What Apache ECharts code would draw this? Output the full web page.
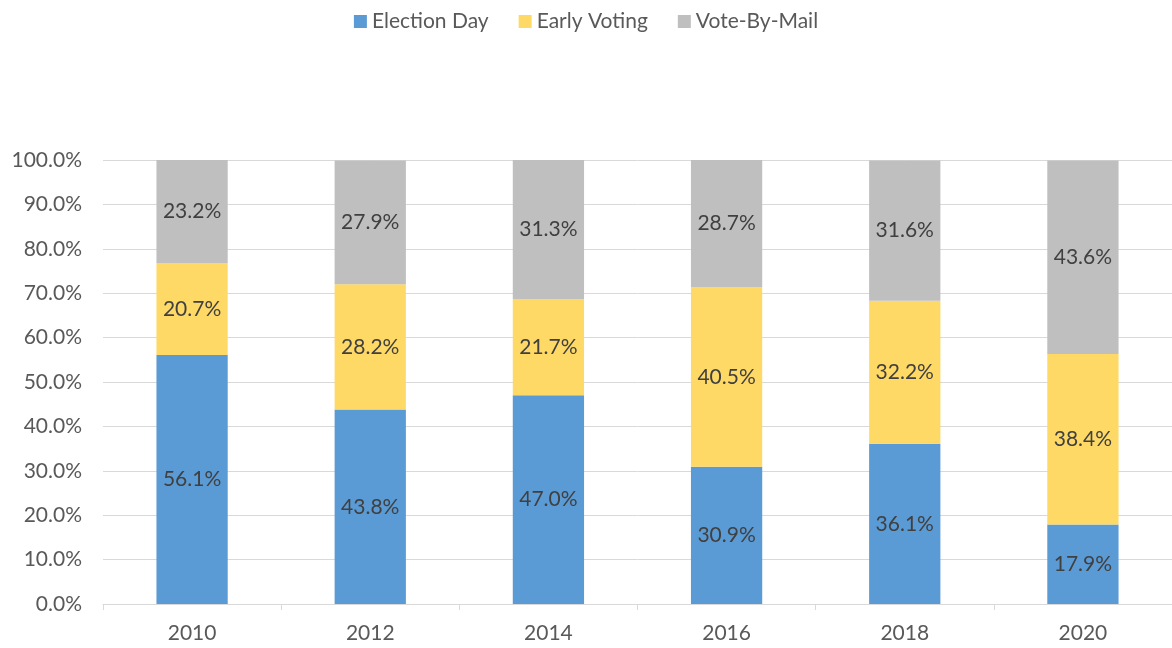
<!DOCTYPE html>
<html>
<head>
<meta charset="utf-8">
<script src="https://cdn.jsdelivr.net/npm/echarts@6/dist/echarts.min.js"></script>
<style>
  html, body { margin: 0; padding: 0; background: #fff; }
  #main { width: 1172px; height: 648px; }
</style>
</head>
<body>
<div id="main"></div>
<script>
var years = ['2010', '2012', '2014', '2016', '2018', '2020'];
var electionDay = [56.1, 43.8, 47.0, 30.9, 36.1, 17.9];
var earlyVoting = [20.7, 28.2, 21.7, 40.5, 32.2, 38.4];
var voteByMail = [23.2, 27.9, 31.3, 28.7, 31.6, 43.6];

var font = 'Lato, "Liberation Sans", sans-serif';

function makeSeries(name, data, color) {
    return {
        name: name,
        type: 'bar',
        stack: 'total',
        barWidth: '40%',
        data: data,
        itemStyle: { color: color },
        label: {
            show: true,
            position: 'inside',
            color: '#404040',
            fontSize: 21,
            fontFamily: font,
            formatter: function (p) { return p.value.toFixed(1) + '%'; }
        }
    };
}

var myChart = echarts.init(document.getElementById('main'));
myChart.setOption({
    animation: false,
    legend: {
        top: 6,
        left: 'center',
        itemWidth: 13,
        itemHeight: 13,
        itemGap: 30,
        icon: 'rect',
        textStyle: { color: '#595959', fontSize: 21, fontFamily: font },
        data: ['Election Day', 'Early Voting', 'Vote-By-Mail']
    },
    grid: { left: 103, right: 0, top: 160, bottom: 44, containLabel: false },
    xAxis: {
        type: 'category',
        data: years,
        axisLine: { lineStyle: { color: '#d9d9d9', width: 1 } },
        axisTick: { show: true, length: 6, lineStyle: { color: '#d9d9d9' } },
        axisLabel: { color: '#595959', fontSize: 21, fontFamily: font, margin: 19 }
    },
    yAxis: {
        type: 'value',
        min: 0,
        max: 100,
        interval: 10,
        axisLine: { show: false },
        axisTick: { show: false },
        splitLine: { lineStyle: { color: '#d9d9d9', width: 1 } },
        axisLabel: {
            color: '#595959', fontSize: 21, fontFamily: font, margin: 21,
            formatter: function (v) { return v.toFixed(1) + '%'; }
        }
    },
    series: [
        makeSeries('Election Day', electionDay, '#5b9bd5'),
        makeSeries('Early Voting', earlyVoting, '#ffd966'),
        makeSeries('Vote-By-Mail', voteByMail, '#bfbfbf')
    ]
});
</script>
</body>
</html>
